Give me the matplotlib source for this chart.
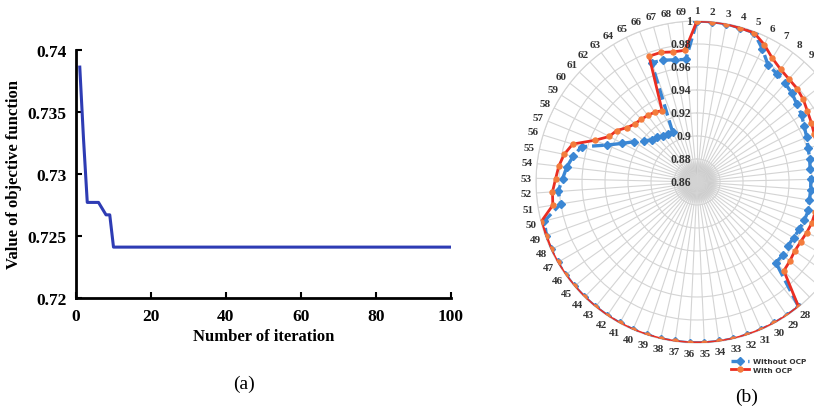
import numpy as np
import matplotlib
matplotlib.use("Agg")
import matplotlib.pyplot as plt

plt.rcParams['font.family'] = ['Liberation Serif', 'DejaVu Serif']

# (a) convergence curve
iterations = [1, 2, 3, 4, 5, 6, 7, 8, 9, 10, 100]
objective = [0.7386, 0.7328, 0.7277, 0.7277, 0.7277, 0.7277, 0.7272, 0.7267,
             0.7267, 0.7241, 0.7241]

# (b) radar, 69 categories
categories = [str(i) for i in range(1, 70)]
with_ocp = [1.0, 1.0, 1.0, 0.999, 0.999, 0.993, 0.986, 0.982, 0.980, 0.979,
            0.977, 0.974, 0.972, 0.970, 0.969, 0.968, 0.968, 0.967, 0.967, 0.967,
            0.966, 0.966, 0.965, 0.964, 0.964, 0.966, 0.968, 1.0, 1.0, 1.0,
            1.0, 1.0, 1.0, 1.0, 1.0, 1.0, 1.0, 1.0, 1.0, 1.0,
            1.0, 1.0, 1.0, 1.0, 1.0, 1.0, 1.0, 1.0, 0.999, 1.0,
            0.987, 0.986, 0.983, 0.981, 0.978, 0.973, 0.956, 0.946, 0.943, 0.937,
            0.934, 0.933, 0.932, 0.931, 0.929, 0.977, 0.977, 0.975, 0.975]
without_ocp = [1.0, 1.0, 1.0, 0.999, 0.999, 0.989, 0.979, 0.977, 0.975, 0.973,
               0.970, 0.968, 0.965, 0.963, 0.961, 0.960, 0.959, 0.959, 0.959, 0.959,
               0.960, 0.959, 0.958, 0.957, 0.9565, 0.958, 0.958, 1.0, 1.0, 1.0,
               1.0, 1.0, 1.0, 1.0, 1.0, 1.0, 1.0, 1.0, 1.0, 1.0,
               1.0, 1.0, 1.0, 1.0, 1.0, 1.0, 1.0, 1.0, 0.999, 0.997,
               0.980, 0.981, 0.977, 0.974, 0.970, 0.965, 0.945, 0.933, 0.925, 0.918,
               0.914, 0.912, 0.910, 0.909, 0.908, 0.971, 0.970, 0.968, 0.967]
r_ticks = [0.86, 0.88, 0.90, 0.92, 0.94, 0.96, 0.98, 1.0]
r_labels = ['0.86', '0.88', '0.9', '0.92', '0.94', '0.96', '0.98', '1']

fig = plt.figure(figsize=(8.14, 4.10), dpi=100)

# ---- left panel
ax1 = fig.add_axes([0.0934, 0.2707, 0.4603, 0.6056])
ax1.plot(iterations, objective, color='#2E3CB4', lw=2.2)
ax1.set_xlim(0, 100)
ax1.set_ylim(0.72, 0.74)
ax1.set_xticks([0, 20, 40, 60, 80, 100])
ax1.set_yticks([0.72, 0.725, 0.73, 0.735, 0.74])
ax1.set_yticklabels(['0.72', '0.725', '0.73', '0.735', '0.74'])
for s in ['top', 'right']:
    ax1.spines[s].set_visible(False)
for s in ['left', 'bottom']:
    ax1.spines[s].set_linewidth(2)
ax1.tick_params(direction='in', length=4, width=1.5, labelsize=12.5, pad=7)
for lbl in ax1.get_xticklabels() + ax1.get_yticklabels():
    lbl.set_fontweight('bold')
ax1.set_xlabel('Number of iteration', fontsize=12, fontweight='bold', labelpad=3)
ax1.set_ylabel('Value of objective function', fontsize=12, fontweight='bold', labelpad=4)
fig.text(0.30, 1 - 384 / 410, '(a)', ha='center', va='center', fontsize=14)

# ---- right panel (radar)
n = len(categories)
angles = np.linspace(0, 2 * np.pi, n, endpoint=False)
ax2 = fig.add_axes([0.6585, 0.161, 0.3956, 0.7854], projection='polar')
ax2.set_theta_zero_location('N')
ax2.set_theta_direction(-1)
ax2.set_ylim(r_ticks[0], r_ticks[-1])

# soft shading at the centre
for s in np.linspace(1000, 40, 16):
    ax2.scatter(0, r_ticks[0], s=s, color='#707070', alpha=0.05,
                edgecolors='none', zorder=1)

ang_c = np.append(angles, angles[0])
b = np.append(without_ocp, without_ocp[0])
r = np.append(with_ocp, with_ocp[0])
ax2.plot(ang_c, b, color='#3B87D4', lw=2.4, ls=(0, (3.5, 1.5)), marker='D',
         ms=3.8, mfc='#3B87D4', mec='#3B87D4', zorder=3, label='Without OCP')
ax2.plot(ang_c, r, color='#EA2E22', lw=2.0, marker='o', ms=3.6,
         mfc='#F47C3C', mec='#F47C3C', zorder=4, label='With OCP')

ax2.set_xticks(angles)
ax2.set_xticklabels(categories, fontsize=8, fontweight='bold', color='#333333')
ax2.tick_params(axis='x', pad=-3)
ax2.set_yticks(r_ticks)
ax2.set_yticklabels([])
ax2.grid(color='#d4d4d4', lw=0.8)
ax2.spines['polar'].set_color('#d4d4d4')
for rv, lab in zip(r_ticks, r_labels):
    ax2.annotate(lab, xy=(0, rv), xytext=(-4, 0), textcoords='offset points',
                 ha='right', va='center', fontsize=8.5, fontweight='bold',
                 color='#333333', zorder=5)

leg = ax2.legend(loc='upper left', bbox_to_anchor=(0.893, 0.135),
                 bbox_transform=fig.transFigure, frameon=False,
                 prop={'family': 'DejaVu Sans', 'size': 5.3, 'weight': 'bold'},
                 handlelength=2.4, handletextpad=0.5, labelspacing=0.35,
                 borderpad=0.1)
for t in leg.get_texts():
    t.set_color('#333333')
fig.text(747 / 814, 1 - 397 / 410, '(b)', ha='center', va='center', fontsize=14)

# category labels mostly past the right edge are not in the picture
fig.canvas.draw()
renderer = fig.canvas.get_renderer()
W = fig.bbox.width
for lbl in ax2.get_xticklabels():
    ext = lbl.get_window_extent(renderer)
    if ext.width > 0 and (W - ext.x0) / ext.width < 0.5:
        lbl.set_visible(False)

fig.savefig('out.png', dpi=100)
